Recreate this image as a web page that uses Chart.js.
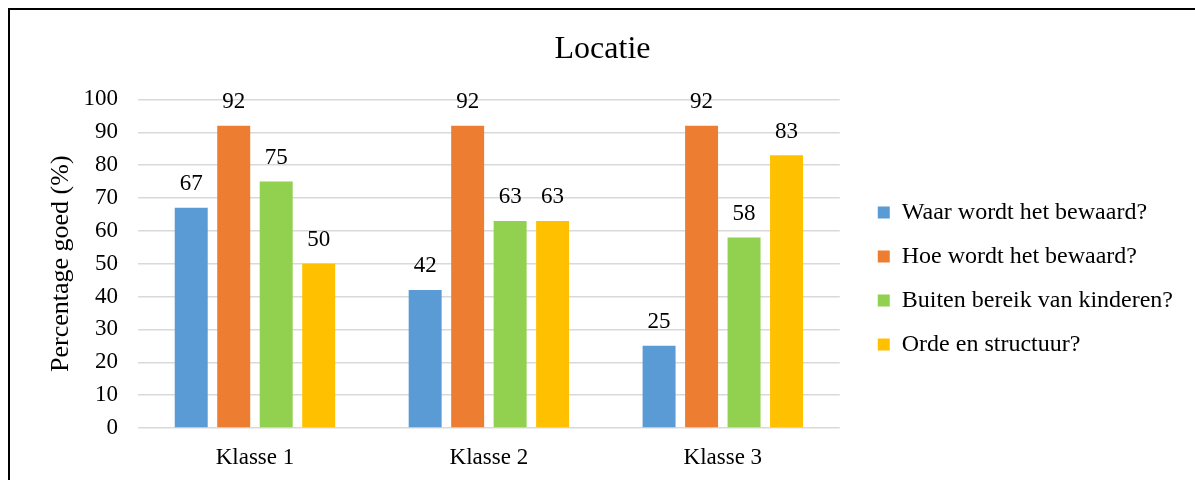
<!DOCTYPE html>
<html>
<head>
<meta charset="utf-8">
<script src="https://cdn.jsdelivr.net/npm/chart.js@4/dist/chart.umd.min.js"></script>
<style>
  html, body { margin: 0; padding: 0; background: #fff; overflow: hidden; }
  #wrap { position: relative; width: 1195px; height: 480px; }
  #frame { position: absolute; left: 8px; top: 8px; width: 1200px; height: 500px; border: 2px solid #000; box-sizing: border-box; pointer-events: none; }
  canvas { position: absolute; left: 0; top: 0; }
</style>
</head>
<body>
<div id="wrap">
  <canvas id="chart" width="1195" height="480"></canvas>
  <div id="frame"></div>
</div>
<script>
const categories = ['Klasse 1', 'Klasse 2', 'Klasse 3'];
const seriesNames = [
  'Waar wordt het bewaard?',
  'Hoe wordt het bewaard?',
  'Buiten bereik van kinderen?',
  'Orde en structuur?'
];
const waarValues = [67, 42, 25];
const hoeValues = [92, 92, 92];
const buitenValues = [75, 63, 58];
const ordeValues = [50, 63, 83];
const seriesColors = ['#5b9bd5', '#ed7d31', '#92d050', '#ffc000'];

const FONT = '"Liberation Serif", "Times New Roman", serif';

// numbers printed above each bar
const valueLabels = {
  id: 'valueLabels',
  afterDatasetsDraw(chart) {
    const ctx = chart.ctx;
    ctx.save();
    ctx.font = '23px ' + FONT;
    ctx.fillStyle = '#000';
    ctx.textAlign = 'center';
    ctx.textBaseline = 'alphabetic';
    chart.data.datasets.forEach((ds, i) => {
      chart.getDatasetMeta(i).data.forEach((bar, j) => {
        ctx.fillText(String(ds.data[j]), bar.x, bar.y - 17.5);
      });
    });
    ctx.restore();
  }
};

// place the legend block a little left of the edge and lower, beside the plot
const legendBand = {
  id: 'legendBand',
  afterLayout(chart) {
    const lg = chart.legend;
    if (lg) {
      lg.top = 77; lg.bottom = 480;
      lg.left -= 12; lg.right -= 12;
    }
  }
};

const allSeries = [waarValues, hoeValues, buitenValues, ordeValues];

new Chart(document.getElementById('chart'), {
  type: 'bar',
  data: {
    labels: categories,
    datasets: allSeries.map((vals, i) => ({
      label: seriesNames[i],
      data: vals,
      backgroundColor: seriesColors[i],
      borderWidth: 0,
      categoryPercentage: 0.7265,
      barPercentage: 0.776,
      yAxisID: 'y'
    }))
  },
  options: {
    responsive: false,
    animation: false,
    devicePixelRatio: 1,
    layout: { padding: { left: 10, right: 0, top: 10, bottom: 0 } },
    plugins: {
      title: {
        display: true,
        text: 'Locatie',
        color: '#000',
        font: { family: FONT, size: 32, weight: 'normal' },
        padding: { top: 20, bottom: 31 }
      },
      legend: {
        position: 'right',
        align: 'center',
        maxWidth: 360,
        labels: {
          color: '#000',
          font: { family: FONT, size: 24 },
          boxWidth: 12,
          boxHeight: 12,
          padding: 20
        }
      },
      tooltip: { enabled: false }
    },
    scales: {
      x: {
        grid: { display: false },
        border: { display: false },
        ticks: { color: '#000', font: { family: FONT, size: 23 }, padding: 8 },
        afterFit(s) { s.height = 52; }
      },
      y: {
        min: 0,
        max: 100,
        ticks: { stepSize: 10, color: '#000', font: { family: FONT, size: 23 }, padding: 20 },
        grid: { color: '#d9d9d9', lineWidth: 1.5, drawTicks: false },
        border: { display: false },
        title: {
          display: true,
          text: 'Percentage goed (%)',
          color: '#000',
          font: { family: FONT, size: 26 },
          padding: { top: 36, bottom: 0 }
        },
        afterFit(s) { s.width = 128; }
      },
      gap: {
        position: 'right',
        display: true,
        grid: { display: false },
        border: { display: false },
        ticks: { display: false },
        afterFit(s) { s.width = 30; }
      }
    }
  },
  plugins: [valueLabels, legendBand]
});
</script>
</body>
</html>
